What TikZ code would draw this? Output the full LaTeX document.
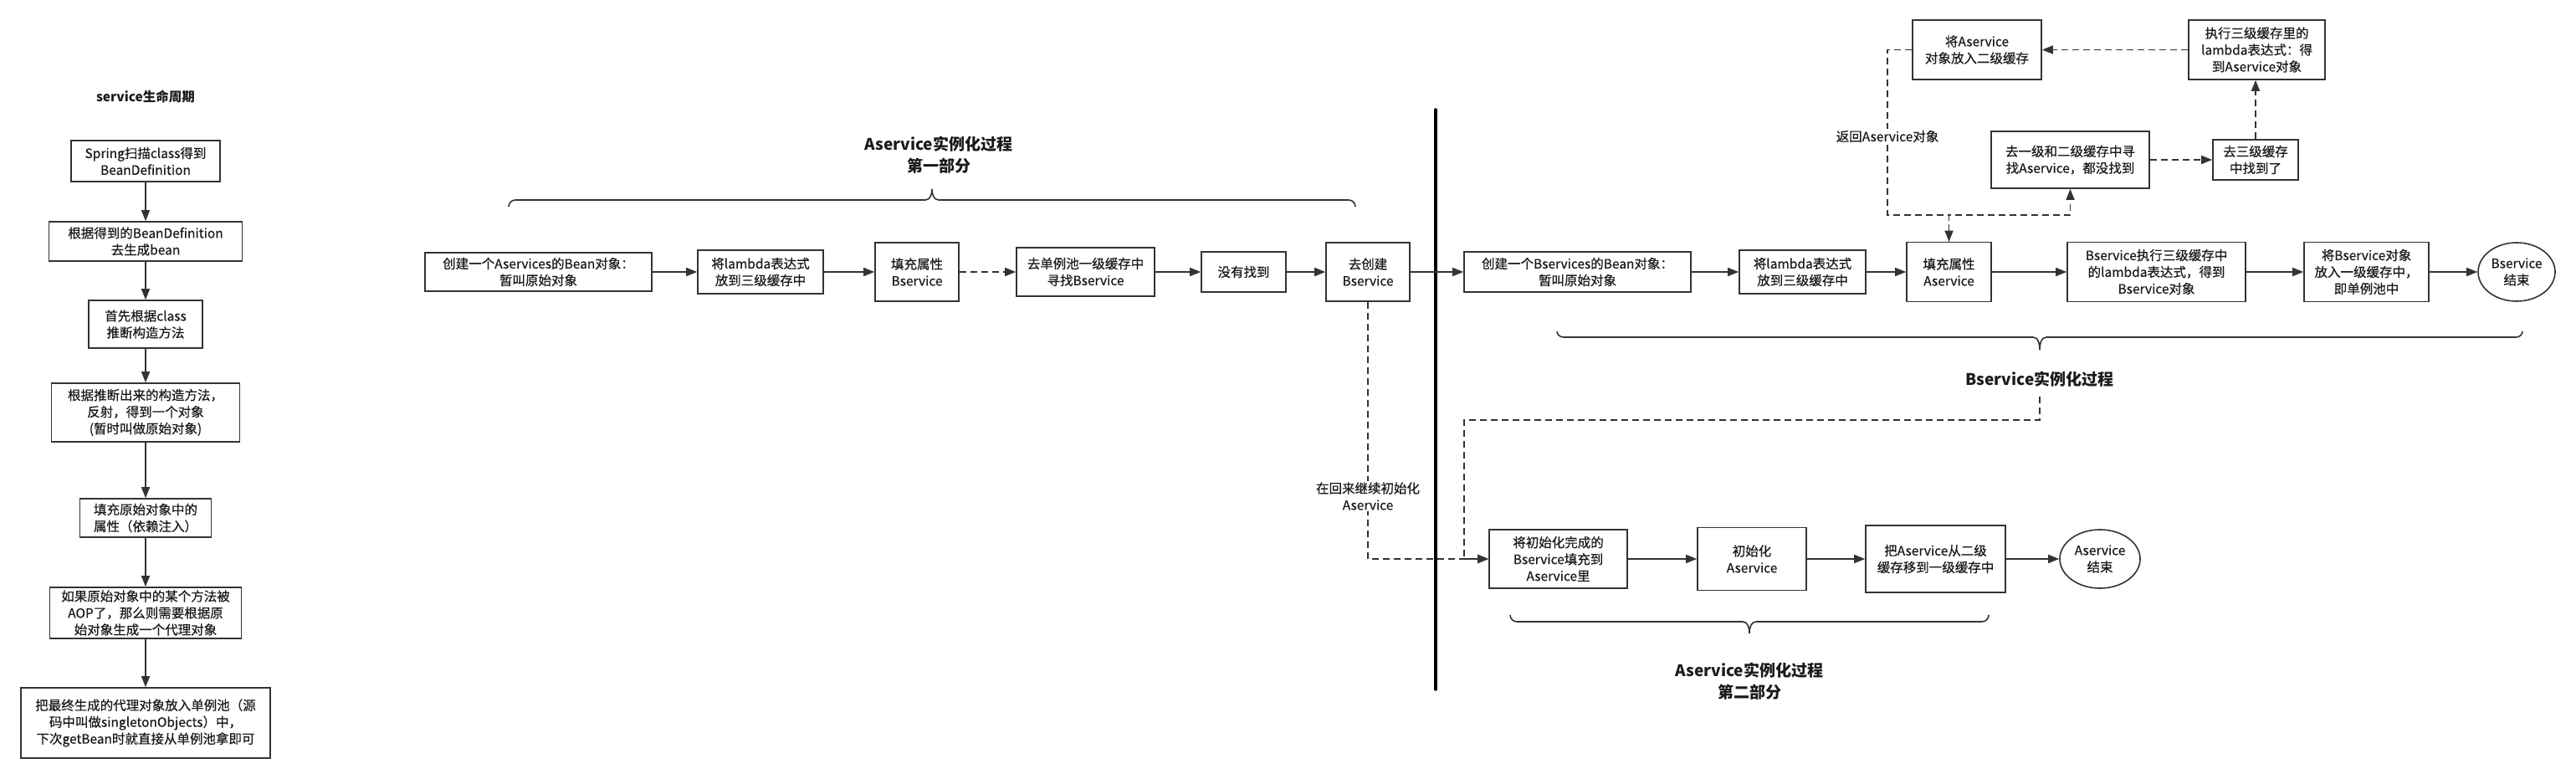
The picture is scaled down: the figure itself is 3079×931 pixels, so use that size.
\documentclass[tikz,border=0pt]{standalone}
\usepackage{fontspec}
\setmainfont{Noto Sans CJK SC}
\newfontfamily\boxfont{Noto Sans CJK SC}[FakeBold=0.45]
\usetikzlibrary{arrows.meta,shapes.geometric}
\definecolor{lc}{HTML}{333333}
\definecolor{tc}{HTML}{1A1A1A}
\begin{document}
\begin{tikzpicture}[x=1pt,y=-1pt,
  box/.style={draw=lc, line width=1.6pt, fill=white, inner sep=0pt, align=center, text=tc, font=\boxfont\fontsize{15.5}{20}\selectfont},
  ell/.style={box, ellipse},
  ttl/.style={font=\bfseries\fontsize{19}{26}\selectfont, align=center, text=tc, inner sep=0pt},
  lbl/.style={fill=white, inner sep=1.5pt, align=center, text=tc, font=\boxfont\fontsize{15.5}{20}\selectfont},
  arr/.style={draw=lc, line width=1.6pt, -{Triangle[length=13pt,width=10pt]}},
  darr/.style={arr, dash pattern=on 8pt off 5pt},
  brace/.style={draw=lc, line width=1.6pt},
]
\fill[white] (0,0) rectangle (3079,931);
\useasboundingbox (0,0) rectangle (3079,931);

% ---------- left column ----------
\node[ttl, font=\bfseries\fontsize{15.5}{20}\selectfont] (L0) at (174,115) {service生命周期};
\node[box, minimum width=178pt, minimum height=49pt] (L1) at (174,192.5) {Spring扫描class得到\\BeanDefinition};
\node[box, minimum width=231pt, minimum height=47pt] (L2) at (174,288.5) {根据得到的BeanDefinition\\去生成bean};
\node[box, minimum width=136pt, minimum height=57pt] (L3) at (174,387.5) {首先根据class\\推断构造方法};
\node[box, minimum width=225pt, minimum height=70pt] (L4) at (174,493) {根据推断出来的构造方法，\\反射，得到一个对象\\(暂时叫做原始对象)};
\node[box, minimum width=157pt, minimum height=46pt] (L5) at (174,619) {填充原始对象中的\\属性（依赖注入）};
\node[box, minimum width=229pt, minimum height=61pt] (L6) at (174,732.5) {如果原始对象中的某个方法被\\AOP了，那么则需要根据原\\始对象生成一个代理对象};
\node[box, minimum width=298pt, minimum height=84pt] (L7) at (174,864) {把最终生成的代理对象放入单例池（源\\码中叫做singletonObjects）中，\\下次getBean时就直接从单例池拿即可};
\foreach \a/\b in {L1/L2,L2/L3,L3/L4,L4/L5,L5/L6,L6/L7}
  \draw[arr] (\a.south) -- (\a.south |- \b.north);

% ---------- divider ----------
\draw[black, line width=3.5pt, line cap=round] (1716,131) -- (1716,824);

% ---------- Aservice part 1 ----------
\node[ttl] (TA) at (1122,185) {Aservice实例化过程\\第一部分};
\draw[brace] (608,247) to[out=90,in=180] (616,239) -- (1106,239) to[out=0,in=-90] (1114,226)
  to[out=-90,in=180] (1122,239) -- (1612,239) to[out=0,in=90] (1620,247);
\node[box, minimum width=271pt, minimum height=46pt] (A1) at (643.5,325) {创建一个Aservices的Bean对象：\\暂叫原始对象};
\node[box, minimum width=150pt, minimum height=52pt] (A2) at (909,325) {将lambda表达式\\放到三级缓存中};
\node[box, minimum width=100pt, minimum height=70pt] (A3) at (1096,325) {填充属性\\Bservice};
\node[box, minimum width=165pt, minimum height=58pt] (A4) at (1297.5,325) {去单例池一级缓存中\\寻找Bservice};
\node[box, minimum width=101pt, minimum height=48pt] (A5) at (1486.5,325) {没有找到};
\node[box, minimum width=100pt, minimum height=70pt] (A6) at (1635,325) {去创建\\Bservice};
\draw[arr] (A1) -- (A2);
\draw[arr] (A2) -- (A3);
\draw[darr] (A3) -- (A4);
\draw[arr] (A4) -- (A5);
\draw[arr] (A5) -- (A6);

% ---------- Bservice ----------
\node[box, minimum width=271pt, minimum height=48pt] (B1) at (1885.5,325) {创建一个Bservices的Bean对象：\\暂叫原始对象};
\node[box, minimum width=151pt, minimum height=52pt] (B2) at (2154.5,325) {将lambda表达式\\放到三级缓存中};
\node[box, minimum width=101pt, minimum height=71pt] (B3) at (2329.5,325) {填充属性\\Aservice};
\node[box, minimum width=213pt, minimum height=71pt] (B4) at (2577.5,325) {Bservice执行三级缓存中\\的lambda表达式，得到\\Bservice对象};
\node[box, minimum width=149pt, minimum height=71pt] (B5) at (2828.5,325) {将Bservice对象\\放入一级缓存中，\\即单例池中};
\node[ell, minimum width=92pt, minimum height=70pt] (B6) at (3008,325) {Bservice\\结束};
\draw[arr] (A6) -- (B1);
\draw[arr] (B1) -- (B2);
\draw[arr] (B2) -- (B3);
\draw[arr] (B3) -- (B4);
\draw[arr] (B4) -- (B5);
\draw[arr] (B5) -- (B6);
\draw[brace] (1861,396) to[out=-90,in=180] (1869,403) -- (2430,403) to[out=0,in=90] (2438,418)
  to[out=90,in=180] (2446,403) -- (3007,403) to[out=0,in=-90] (3015,396);
\node[ttl] (TB) at (2438,453) {Bservice实例化过程};

% ---------- top loop ----------
\node[box, minimum width=154pt, minimum height=71pt] (C1) at (2363,59.5) {将Aservice\\对象放入二级缓存};
\node[box, minimum width=163pt, minimum height=71pt] (C2) at (2697.5,59.5) {执行三级缓存里的\\lambda表达式：得\\到Aservice对象};
\node[box, minimum width=189pt, minimum height=68pt] (C3) at (2474.5,191) {去一级和二级缓存中寻\\找Aservice，都没找到};
\node[box, minimum width=102pt, minimum height=48pt] (C4) at (2696,191) {去三级缓存\\中找到了};
\coordinate (j1) at (2256,257);
\draw[darr] (C3) -- (C4);
\draw[darr] (C4.north) -- (C4.north |- C2.south);
\draw[darr] (C2) -- (C1);
\draw[darr] (B3.north) |- (C3.south |- j1) -- (C3.south);
\draw[darr] (C1.west) -| (j1) -| (B3.north);
\node[lbl] (LR) at (2256,163) {返回Aservice对象};

% ---------- Aservice part 2 ----------
\node[box, minimum width=165pt, minimum height=70pt] (D1) at (1862.5,668) {将初始化完成的\\Bservice填充到\\Aservice里};
\node[box, minimum width=130pt, minimum height=75pt] (D2) at (2094,668) {初始化\\Aservice};
\node[box, minimum width=167pt, minimum height=80pt] (D3) at (2313.5,668) {把Aservice从二级\\缓存移到一级缓存中};
\node[ell, minimum width=96pt, minimum height=70pt] (D4) at (2510,668) {Aservice\\结束};
\draw[arr] (D1) -- (D2);
\draw[arr] (D2) -- (D3);
\draw[arr] (D3) -- (D4);
\coordinate (bt) at (2438,474);
\coordinate (j3) at (1750,502);
\draw[darr] (bt) |- (j3) |- (D1.west);
\draw[darr] (A6.south) |- (D1.west);
\node[lbl] (LC) at (1635,593) {在回来继续初始化\\Aservice};
\draw[brace] (1805,735) to[out=-90,in=180] (1813,743) -- (2083,743) to[out=0,in=90] (2091,757)
  to[out=90,in=180] (2099,743) -- (2369,743) to[out=0,in=-90] (2377,735);
\node[ttl] (TD) at (2091,814) {Aservice实例化过程\\第二部分};
\end{tikzpicture}
\end{document}
